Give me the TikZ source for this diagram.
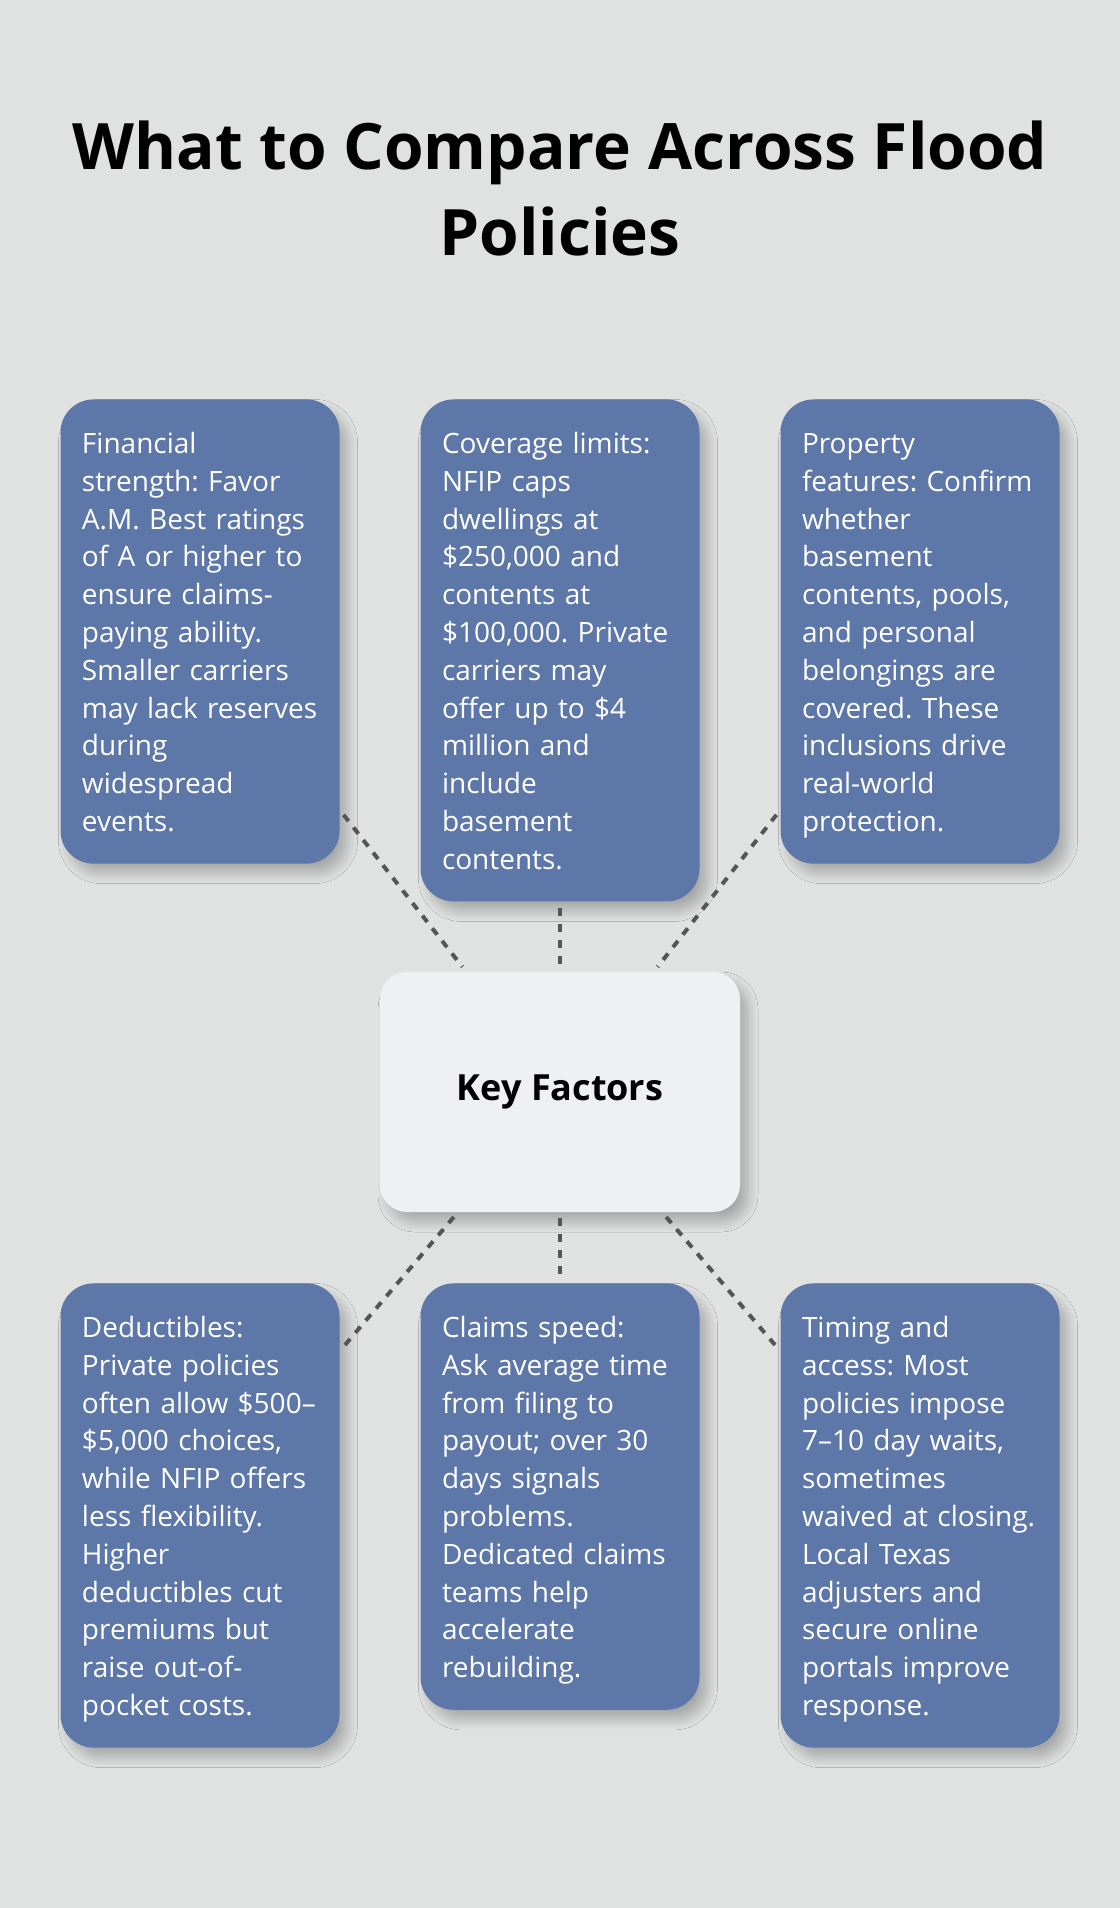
\documentclass[tikz,border=0pt]{standalone}
\usepackage{fontspec}
\setmainfont{Open Sans}
\usepackage{xcolor}
\usetikzlibrary{shadows.blur}

\definecolor{bgGray}{HTML}{E0E2E1}
\definecolor{factBlue}{HTML}{5D77A8}
\definecolor{keyFill}{HTML}{EFF0F2}
\definecolor{linkGray}{HTML}{555555}

\begin{document}
\frenchspacing
\begin{tikzpicture}[x=0.5pt, y=-0.5pt,
    softshadow/.style={blur shadow={shadow xshift=4pt, shadow yshift=-5pt,
        shadow blur radius=5pt, shadow blur steps=15, shadow opacity=25}},
    factbox/.style={rectangle, rounded corners=16.5pt, fill=factBlue, text=white,
        text width=118pt, align=left, inner xsep=10.75pt, inner ysep=12pt,
        font=\fontsize{14}{18.9}\selectfont, anchor=north, softshadow,
        execute at begin node={\rule{0pt}{15pt}},
        execute at end node={\rule[-4.1pt]{0pt}{4.1pt}}},
    keybox/.style={rectangle, rounded corners=13.5pt, fill=keyFill,
        minimum width=180pt, minimum height=120pt, softshadow,
        font=\fontsize{18}{22}\selectfont\bfseries},
    link/.style={draw=linkGray, line width=2pt, dash pattern=on 4pt off 4pt,
        shorten <=3pt, shorten >=3pt}]

    % Canvas
    \useasboundingbox (0,0) rectangle (1120,1908);
    \fill[bgGray] (0,0) rectangle (1120,1908);

    % Title
    \node[font=\fontsize{32}{43}\selectfont\bfseries, align=center] (title) at (560,188)
        {What to Compare Across Flood\\Policies};

    % Top row
    \node[factbox] (finance) at (200,399) {Financial\\strength: Favor\\A.M. Best ratings\\of A or higher to\\ensure claims-\\paying ability.\\Smaller carriers\\may lack reserves\\during\\widespread\\events.};
    \node[factbox] (limits) at (560,399) {Coverage limits:\\NFIP caps\\dwellings at\\\$250,000 and\\contents at\\\$100,000. Private\\carriers may\\offer up to \$4\\million and\\include\\basement\\contents.};
    \node[factbox] (features) at (920,399) {Property\\features: Confirm\\whether\\basement\\contents, pools,\\and personal\\belongings are\\covered. These\\inclusions drive\\real-world\\protection.};

    % Centre
    \node[keybox] (key) at (560,1092) {Key Factors};

    % Bottom row
    \node[factbox] (deduct) at (200,1283) {Deductibles:\\Private policies\\often allow \$500–\\\$5,000 choices,\\while NFIP offers\\less flexibility.\\Higher\\deductibles cut\\premiums but\\raise out-of-\\pocket costs.};
    \node[factbox] (speed) at (560,1283) {Claims speed:\\Ask average time\\from filing to\\payout; over 30\\days signals\\problems.\\Dedicated claims\\teams help\\accelerate\\rebuilding.};
    \node[factbox] (timing) at (920,1283) {Timing and\\access: Most\\policies impose\\7–10 day waits,\\sometimes\\waived at closing.\\Local Texas\\adjusters and\\secure online\\portals improve\\response.};

    % Links
    \draw[link] (finance) -- (key);
    \draw[link] (limits) -- (key);
    \draw[link] (features) -- (key);
    \draw[link] (key) -- (deduct);
    \draw[link] (key) -- (speed);
    \draw[link] (key) -- (timing);
\end{tikzpicture}
\end{document}
